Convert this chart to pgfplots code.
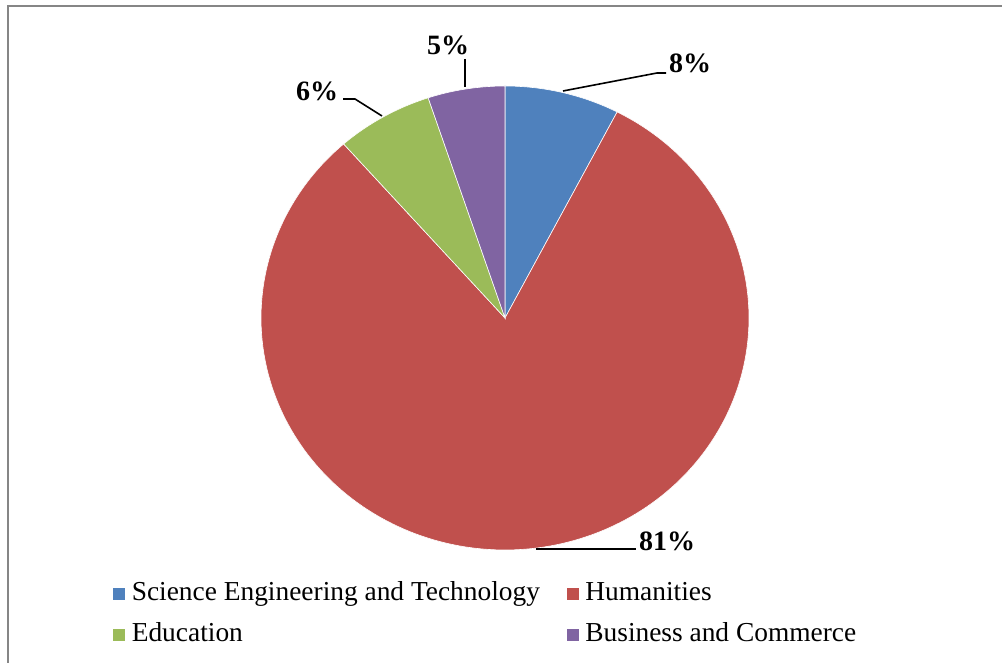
\documentclass[border=0pt]{standalone}
\usepackage{pgfplots}
\usepackage{pgfplotstable}
\pgfplotsset{compat=1.18}
\usepackage{fontspec}
\setmainfont{Liberation Serif}

\definecolor{cSET}{HTML}{4F81BD}
\definecolor{cHum}{HTML}{C0504D}
\definecolor{cEdu}{HTML}{9BBB59}
\definecolor{cBus}{HTML}{8064A2}
\definecolor{frame}{HTML}{868686}

% share of each field, percent (clockwise from 12 o'clock)
\pgfplotstableread{
idx pct
0 7.6
1 80.9
2 6.4
3 5.1
}\piedata

\pgfplotstablegetelem{0}{pct}\of\piedata \let\pA=\pgfplotsretval
\pgfplotstablegetelem{1}{pct}\of\piedata \let\pB=\pgfplotsretval
\pgfplotstablegetelem{2}{pct}\of\piedata \let\pC=\pgfplotsretval
\pgfplotstablegetelem{3}{pct}\of\piedata \let\pD=\pgfplotsretval
\pgfmathsetmacro{\aZ}{90}
\pgfmathsetmacro{\aA}{\aZ-3.6*\pA}
\pgfmathsetmacro{\aB}{\aA-3.6*\pB}
\pgfmathsetmacro{\aC}{\aB-3.6*\pC}
\pgfmathsetmacro{\aD}{\aC-3.6*\pD}

\begin{document}
\begin{tikzpicture}
\path[use as bounding box] (0,0) rectangle (501pt,331.5pt);
\begin{axis}[
  x=0.5pt, y=0.5pt,
  xmin=0, xmax=1002, ymin=0, ymax=663,
  anchor=origin, at={(0,0)},
  hide axis, clip=false,
  legend columns=2,
  legend image code/.code={\fill[#1] (0pt,-3.1pt) rectangle (6.4pt,3.1pt);},
  legend style={
    at={(axis cs:112,82)}, anchor=north west,
    draw=none, fill=none, inner sep=0pt,
    font=\fontsize{13.7}{16}\selectfont,
    nodes={inner sep=0pt, text height=9.5pt, text depth=3pt, anchor=west},
    row sep=8pt,
    /tikz/every odd column/.append style={column sep=3pt},
    /tikz/every even column/.append style={column sep=13pt},
  },
]
% frame (top and left edges visible)
\draw[frame, line width=1pt] (axis cs:8,0) -- (axis cs:8,657) -- (axis cs:1002,657);

% slices
\addplot[fill=cSET, draw=white, line width=0.3pt, domain=\aA:\aZ, samples=40, variable=\t]
  ({505+244*cos(\t)},{345+232*sin(\t)}) -- (axis cs:505,345) -- cycle;
\addlegendentry{Science Engineering and Technology}
\addplot[fill=cHum, draw=white, line width=0.3pt, domain=\aB:\aA, samples=200, variable=\t]
  ({505+244*cos(\t)},{345+232*sin(\t)}) -- (axis cs:505,345) -- cycle;
\addlegendentry{Humanities}
\addplot[fill=cEdu, draw=white, line width=0.3pt, domain=\aC:\aB, samples=30, variable=\t]
  ({505+244*cos(\t)},{345+232*sin(\t)}) -- (axis cs:505,345) -- cycle;
\addlegendentry{Education}
\addplot[fill=cBus, draw=white, line width=0.3pt, domain=\aD:\aC, samples=30, variable=\t]
  ({505+244*cos(\t)},{345+232*sin(\t)}) -- (axis cs:505,345) -- cycle;
\addlegendentry{Business and Commerce}

% leader lines
\addplot[black, line width=0.8pt, forget plot] coordinates {(563,572) (657,590) (666,590)};
\addplot[black, line width=0.8pt, forget plot] coordinates {(465,604) (465,576)};
\addplot[black, line width=0.8pt, forget plot] coordinates {(343,564) (355,564) (382,547)};
\addplot[black, line width=0.8pt, forget plot] coordinates {(536,114) (636,114)};

% data labels
\begin{scope}[font=\fontsize{14}{16}\selectfont\bfseries]
\node at (axis cs:690,600) {8\%};
\node at (axis cs:448,618) {5\%};
\node at (axis cs:317,572) {6\%};
\node at (axis cs:667,122) {81\%};
\end{scope}
\end{axis}
\end{tikzpicture}
\end{document}
